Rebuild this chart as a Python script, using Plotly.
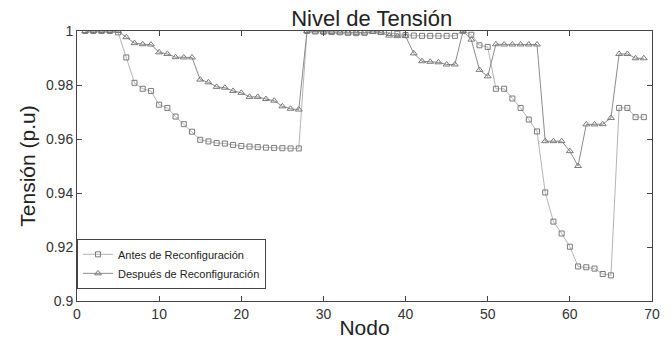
import plotly.graph_objects as go

nodes = list(range(1, 70))

antes = [1.0, 1.0, 1.0, 1.0, 0.9995,
         0.9902, 0.9808, 0.9786, 0.9778, 0.9727, 0.9715, 0.9683, 0.9655, 0.9627, 0.9597,
         0.9591, 0.9585, 0.9583, 0.9578, 0.9574, 0.9572, 0.9570, 0.9568, 0.9567, 0.9566,
         0.9565, 0.9565,
         1.0, 0.9998, 0.9997, 0.9996, 0.9995, 0.9993, 0.9992, 0.9993, 1.0, 0.9996,
         0.9993, 0.9990, 0.9985, 0.9983, 0.9982, 0.9982, 0.9982, 0.9982, 0.9982,
         1.0, 0.9986, 0.9947, 0.9941, 0.9786, 0.9786, 0.9750, 0.9715, 0.9672, 0.9628,
         0.9402, 0.9294, 0.9250, 0.9201, 0.9128, 0.9125, 0.9120, 0.9100, 0.9095,
         0.9715, 0.9715, 0.9681, 0.9681]

despues = [1.0, 1.0, 1.0, 1.0, 1.0,
           0.9977, 0.9955, 0.9951, 0.9950, 0.9921, 0.9915, 0.9903, 0.9902, 0.9902, 0.9820,
           0.9810, 0.9793, 0.9790, 0.9778, 0.9771, 0.9756, 0.9756, 0.9748, 0.9742, 0.9721,
           0.9712, 0.9709,
           1.0, 0.9998, 0.9997, 0.9996, 0.9995, 0.9994, 0.9993, 0.9994, 0.9996, 0.9994,
           0.9983, 0.9981, 0.9981, 0.9917, 0.9888, 0.9886, 0.9884, 0.9876, 0.9876,
           1.0, 0.9968, 0.9856, 0.9832, 0.9951, 0.9950, 0.9950, 0.9950, 0.9950, 0.9950,
           0.9592, 0.9592, 0.9592, 0.9555, 0.9500, 0.9654, 0.9654, 0.9655, 0.9678,
           0.9915, 0.9915, 0.9899, 0.9899]

y_ticks = [0.9, 0.92, 0.94, 0.96, 0.98, 1.0]
y_tick_labels = ["0.9", "0.92", "0.94", "0.96", "0.98", "1"]
x_ticks = [0, 10, 20, 30, 40, 50, 60, 70]

FONT = "Liberation Sans, Arial, sans-serif"

fig = go.Figure()
fig.add_trace(go.Scatter(
    x=nodes, y=antes, mode="lines+markers", name="Antes de Reconfiguración",
    line=dict(color="#b4b4b4", width=1),
    marker=dict(symbol="square-open", size=5, color="#7a7a7a", line=dict(width=1)),
))
fig.add_trace(go.Scatter(
    x=nodes, y=despues, mode="lines+markers", name="Después de Reconfiguración",
    line=dict(color="#8c8c8c", width=1),
    marker=dict(symbol="triangle-up-open", size=6, color="#7a7a7a", line=dict(width=1)),
))

axis_common = dict(
    showline=True, linecolor="#444", linewidth=1, mirror="ticks",
    ticks="inside", ticklen=5, tickcolor="#444", showgrid=False, zeroline=False,
    automargin=False,
    tickfont=dict(family=FONT, size=14, color="#333"),
)

fig.update_layout(
    width=671, height=339,
    margin=dict(l=77, r=19, t=31, b=38),
    paper_bgcolor="white", plot_bgcolor="white",
    title=dict(text="Nivel de Tensión", x=0.554, xanchor="center",
               y=0.922, yanchor="bottom",
               font=dict(family=FONT, size=22, color="#222")),
    xaxis=dict(range=[0, 70], tickvals=x_ticks, **axis_common,
               title=dict(text="Nodo", font=dict(family=FONT, size=21, color="#222"), standoff=7)),
    yaxis=dict(range=[0.9, 1.0], tickvals=y_ticks, ticktext=y_tick_labels, **axis_common,
               title=dict(text="Tensión (p.u)", font=dict(family=FONT, size=21, color="#222"), standoff=4)),
    legend=dict(x=0.0, y=0.045, xanchor="left", yanchor="bottom",
                bgcolor="white", bordercolor="#444", borderwidth=1,
                font=dict(family=FONT, size=11, color="#222"),
                itemwidth=30, tracegroupgap=0),
    showlegend=True,
)

fig.write_html("out.html")
